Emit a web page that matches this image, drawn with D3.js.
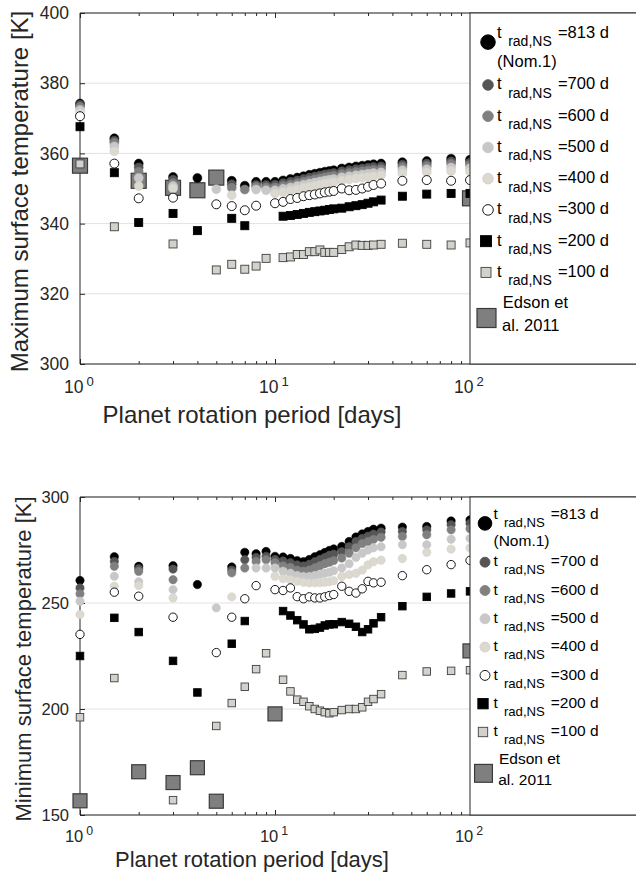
<!DOCTYPE html>
<html>
<head>
<meta charset="utf-8">
<script src="https://cdn.jsdelivr.net/npm/d3@7"></script>
<style>
    body { margin: 0; background: #ffffff; }
    svg { display: block; font-family: 'Liberation Sans', Arial, Helvetica, sans-serif; }
</style>
</head>
<body>
<svg id="svgTemps" width="636" height="876"></svg>
<script>
// rotation periods (days) shared by all t_rad,NS runs
const periods = [1, 1.5, 2, 3, 4, 5, 6, 7, 8, 9,
    10, 11, 12, 13, 14, 15, 16, 17, 18, 19, 20,
    22, 24, 26, 28, 30, 32, 35, 45, 60, 80, 100];

const radTimes = ['813', '700', '600', '500', '400', '300', '200', '100'];

// maximum surface temperature [K]
const maxT813 = [374.2, 364.3, 357.1, 353.3, 353.0, null, 352.2, 350.8, 351.9, 351.9,
    351.9, 352.3, 352.7, 353.1, 353.5, 353.9, 354.2, 354.5, 354.8, 355.0, 355.2,
    355.7, 356.0, 356.3, 356.5, 356.7, 356.9, 357.1, 357.5, 357.8, 358.5, 358.2];
const maxT700 = [373.8, 363.6, 356.0, 352.5, null, null, 351.2, null, 351.0, 351.0,
    351.1, 351.5, 351.9, 352.3, 352.7, 353.1, 353.4, 353.7, 354.0, 354.2, 354.4,
    354.9, 355.2, 355.5, 355.7, 355.9, 356.1, 356.3, 356.8, 357.1, 357.7, 357.4];
const maxT600 = [373.2, 363.0, 354.8, 351.5, null, null, 350.2, 349.7, 350.5, 350.3,
    350.3, 350.7, 351.1, 351.5, 351.9, 352.3, 352.6, 352.9, 353.2, 353.4, 353.6,
    354.1, 354.4, 354.7, 354.9, 355.1, 355.3, 355.5, 356.1, 356.4, 357.0, 356.7];
const maxT500 = [372.4, 362.0, 353.0, 350.7, null, 349.8, null, null, 349.7, 349.5,
    349.5, 349.9, 350.3, 350.7, 351.1, 351.4, 351.7, 352.0, 352.3, 352.5, 352.7,
    353.2, 353.5, 353.8, 354.0, 354.2, 354.4, 354.6, 355.2, 355.5, 356.0, 355.8];
const maxT400 = [371.6, 360.6, 350.7, 350.0, null, null, 348.1, null, null, null,
    348.6, 349.0, 349.4, 349.8, 350.2, 350.5, 350.8, 351.1, 351.4, 351.6, 351.8,
    352.3, 352.6, 352.9, 353.1, 353.3, 353.5, 353.8, 354.3, 354.6, 355.0, 354.8];
const maxT300 = [370.6, 357.1, 347.2, 347.4, null, 345.5, 345.0, 343.8, 345.1, null,
    345.8, 346.2, 347.0, 347.3, 347.8, 348.1, 348.3, 348.6, 348.9, 349.1, 349.3,
    350.0, 349.5, 349.6, 350.0, 350.5, 351.0, 351.4, 352.2, 352.4, 352.2, 352.4];
const maxT200 = [367.6, 354.5, 340.3, 342.9, 338.0, null, 341.5, 339.4, null, null,
    null, 342.1, 342.3, 342.6, 342.9, 343.2, 343.4, 343.6, 343.8, 344.0, 344.2,
    344.4, 344.8, 345.1, 345.4, 345.8, 346.2, 346.7, 347.8, 348.4, 348.6, 348.6];
const maxT100 = [357.0, 339.1, null, 334.2, null, 326.8, 328.4, 327.0, 327.9, 330.1,
    null, 330.3, 330.5, 331.2, 331.2, 332.0, 332.0, 332.5, 331.8, 331.8, 331.8,
    332.6, 333.4, 333.9, 333.8, 333.8, 333.9, 334.1, 334.4, 334.1, 333.9, 334.5];

// minimum surface temperature [K]
const minT813 = [260.6, 271.8, 267.3, 267.6, 258.7, null, 267.0, 273.9, 273.2, 274.3,
    272.0, 271.7, 271.0, 270.0, 269.5, 270.5, 271.8, 272.8, 273.8, 274.8, 275.5,
    276.7, 279.0, 281.1, 282.6, 283.7, 284.8, 285.3, 285.8, 286.1, 288.7, 289.2];
const minT700 = [257.1, 269.6, 266.2, 266.0, null, null, 265.5, 270.4, 271.5, 272.0,
    270.5, 269.8, 269.0, 268.0, 267.5, 268.3, 269.5, 270.5, 271.5, 272.5, 273.0,
    274.2, 276.5, 279.0, 280.5, 281.5, 282.5, 283.5, 283.7, 284.5, 286.9, 287.5];
const minT600 = [254.3, 267.3, 264.9, 261.0, null, null, 264.2, 266.5, 269.6, 270.4,
    269.0, 267.5, 266.8, 265.5, 265.0, 265.6, 266.6, 267.6, 268.5, 269.2, 270.0,
    271.2, 273.5, 276.0, 278.0, 279.0, 280.0, 281.0, 281.4, 282.2, 284.5, 285.0];
const minT500 = [250.8, 262.6, 260.0, 256.3, null, 247.7, null, null, 266.5, 266.5,
    266.5, 265.0, 264.0, 263.0, 262.5, 262.5, 263.0, 263.5, 264.0, 264.5, 265.2,
    266.5, 268.5, 271.5, 273.5, 275.0, 276.0, 276.5, 277.5, 277.5, 280.1, 280.5];
const minT400 = [244.6, 257.9, 258.2, 252.4, null, null, 252.9, null, null, null,
    262.6, 261.5, 261.0, 260.3, 259.8, 259.5, 259.5, 259.6, 259.8, 260.0, 260.5,
    262.5, 263.4, 264.0, 265.5, 268.0, 269.5, 270.2, 271.0, 273.9, 275.4, 276.0];
const minT300 = [235.2, 255.1, 253.2, 243.3, null, 226.6, 243.3, 252.0, 258.2, null,
    256.3, 255.9, 257.1, 253.0, 252.0, 252.9, 252.4, 252.4, 252.9, 253.5, 254.0,
    257.9, 255.5, 254.7, 256.7, 260.2, 259.5, 259.8, 262.9, 265.7, 268.1, 270.1];
const minT200 = [225.0, 243.0, 236.3, 222.7, 207.8, null, 230.8, 241.5, null, null,
    null, 246.2, 244.1, 241.9, 239.9, 237.6, 237.8, 238.4, 239.4, 239.9, 240.0,
    241.0, 240.2, 238.8, 236.3, 237.6, 240.4, 243.3, 248.5, 252.9, 254.5, 255.5];
const minT100 = [196.1, 214.6, null, 157.0, null, 192.0, 202.8, 210.5, 218.8, 226.3,
    null, 213.8, 208.3, 204.4, 203.4, 201.3, 200.0, 199.2, 198.5, 198.0, 198.5,
    199.5, 200.0, 200.0, 200.8, 203.4, 204.7, 207.0, 216.0, 217.7, 218.0, 218.3];

// Edson et al. 2011
const edsonPeriods = [1, 2, 3, 4, 5, 10, 100];
const edsonMax = [356.5, 352.2, 350.2, 349.5, 353.1, null, 347.2];
const edsonMin = [156.7, 170.4, 165.3, 172.3, 156.5, 197.7, 227.4];

const maxTicks = [300, 320, 340, 360, 380, 400];
const minTicks = [150, 200, 250, 300];
const xMajorTicks = [1, 10, 100];
const xMinorTicks = [2, 3, 4, 5, 6, 7, 8, 9, 20, 30, 40, 50, 60, 70, 80, 90];

const markerStyles = [
    {shape: 'circle', fill: '#000000', stroke: '#000000'},
    {shape: 'circle', fill: '#555555', stroke: '#555555'},
    {shape: 'circle', fill: '#808080', stroke: '#808080'},
    {shape: 'circle', fill: '#c8c8c8', stroke: '#c8c8c8'},
    {shape: 'circle', fill: '#dcd9d0', stroke: '#d2cfc6'},
    {shape: 'circle', fill: '#ffffff', stroke: '#000000'},
    {shape: 'square', fill: '#000000', stroke: '#000000'},
    {shape: 'square', fill: '#d2d1cc', stroke: '#404040'}
];
const edsonStyle = {fill: '#7f7f7f', stroke: '#3a3a3a'};

const axisColor = '#262626';
const plotLeft = 80, plotRight = 470, svgWidth = 636;
const legendRows = [0.083, 0.205, 0.294, 0.383, 0.472, 0.561, 0.650, 0.739, 0.869];

const panels = [
    {
        top: 13, bottom: 364, domain: [300, 400], ticks: maxTicks,
        series: [maxT813, maxT700, maxT600, maxT500, maxT400, maxT300, maxT200, maxT100],
        edson: edsonMax,
        yLabel: 'Maximum surface temperature [K]',
        tickFont: 17.5, labelFont: 24, xTickBase: 393, xLabelBase: 423, yLabelX: 28,
        r: 4.5, sq: 8, edsonSize: 15,
        legendX: 488, legendFont: 16.5
    },
    {
        top: 497, bottom: 815, domain: [150, 300], ticks: minTicks,
        series: [minT813, minT700, minT600, minT500, minT400, minT300, minT200, minT100],
        edson: edsonMin,
        yLabel: 'Minimum surface temperature [K]',
        tickFont: 16.5, labelFont: 22, xTickBase: 842, xLabelBase: 867, yLabelX: 31,
        r: 4.2, sq: 7.5, edsonSize: 14,
        legendX: 485, legendFont: 15.5
    }
];

const svg = d3.select('#svgTemps');

const xScale = d3.scaleLog()
    .domain([1, 100])
    .range([plotLeft, plotRight]);

function toPoints(xs, values) {
    return xs.map((p, i) => ({period: p, value: values[i]}))
        .filter(d => d.value !== null);
}

function drawMarkers(g, points, style, y, p) {
    if (style.shape === 'circle') {
        g.selectAll(null)
            .data(points)
            .join('circle')
            .attr('cx', d => xScale(d.period))
            .attr('cy', d => y(d.value))
            .attr('r', p.r)
            .style('fill', style.fill)
            .style('stroke', style.stroke)
            .style('stroke-width', style.fill === '#ffffff' ? 0.9 : 0.5);
    } else {
        g.selectAll(null)
            .data(points)
            .join('rect')
            .attr('x', d => xScale(d.period) - p.sq / 2)
            .attr('y', d => y(d.value) - p.sq / 2)
            .attr('width', p.sq)
            .attr('height', p.sq)
            .style('fill', style.fill)
            .style('stroke', style.stroke)
            .style('stroke-width', 0.9);
    }
}

function drawPanel(p) {
    const g = svg.append('g');

    const yScale = d3.scaleLinear()
        .domain(p.domain)
        .range([p.bottom, p.top]);

    // grid
    g.selectAll('.grid')
        .data(p.ticks)
        .join('line')
        .classed('grid', true)
        .attr('x1', plotLeft)
        .attr('x2', plotRight)
        .attr('y1', d => yScale(d))
        .attr('y2', d => yScale(d))
        .style('stroke', '#e2e2e2')
        .style('stroke-width', 1);

    // y axis (ticks point inward)
    const yAxis = g.append('g')
        .attr('transform', `translate(${plotLeft}, 0)`)
        .call(d3.axisLeft(yScale)
            .tickValues(p.ticks)
            .tickSize(-5)
            .tickPadding(11)
            .tickFormat(d3.format('d')));
    yAxis.select('.domain').remove();
    yAxis.selectAll('line').style('stroke', axisColor);
    yAxis.selectAll('text')
        .style('font-size', `${p.tickFont}px`)
        .style('font-family', "'Liberation Sans', Arial, sans-serif")
        .style('fill', axisColor);

    // x ticks on bottom and top
    [[d3.axisBottom, p.bottom], [d3.axisTop, p.top]].forEach(([axisFn, pos]) => {
        const major = g.append('g')
            .attr('transform', `translate(0, ${pos})`)
            .call(axisFn(xScale).tickValues(xMajorTicks).tickSize(-5).tickFormat(''));
        const minor = g.append('g')
            .attr('transform', `translate(0, ${pos})`)
            .call(axisFn(xScale).tickValues(xMinorTicks).tickSize(-3).tickFormat(''));
        [major, minor].forEach(a => {
            a.select('.domain').remove();
            a.selectAll('line').style('stroke', axisColor);
        });
    });

    // box lines
    g.append('line')
        .attr('x1', plotLeft).attr('x2', plotLeft)
        .attr('y1', p.top).attr('y2', p.bottom)
        .style('stroke', axisColor);
    [p.top, p.bottom].forEach(yy => {
        g.append('line')
            .attr('x1', plotLeft).attr('x2', svgWidth + 5)
            .attr('y1', yy).attr('y2', yy)
            .style('stroke', axisColor);
    });

    // x tick labels 10^n
    g.selectAll('.xTickLabel')
        .data(xMajorTicks)
        .join('text')
        .classed('xTickLabel', true)
        .attr('x', d => xScale(d) - 1)
        .attr('y', p.xTickBase)
        .style('text-anchor', 'middle')
        .style('font-size', `${p.tickFont}px`)
        .style('fill', axisColor)
        .each(function (d) {
            const t = d3.select(this);
            t.append('tspan').text('10');
            t.append('tspan')
                .attr('dx', 3)
                .attr('dy', -7)
                .style('font-size', `${p.tickFont * 0.75}px`)
                .text(String(Math.round(Math.log10(d))));
        });

    g.append('text')
        .attr('x', 252)
        .attr('y', p.xLabelBase)
        .style('text-anchor', 'middle')
        .style('font-size', `${p.labelFont}px`)
        .style('fill', axisColor)
        .text('Planet rotation period [days]');

    g.append('text')
        .attr('transform', `translate(${p.yLabelX}, ${(p.top + p.bottom) / 2 + 3}) rotate(-90)`)
        .style('text-anchor', 'middle')
        .style('font-size', `${p.labelFont}px`)
        .style('fill', axisColor)
        .text(p.yLabel);

    // data
    const marks = g.append('g');
    marks.selectAll('.edson')
        .data(toPoints(edsonPeriods, p.edson))
        .join('rect')
        .classed('edson', true)
        .attr('x', d => xScale(d.period) - p.edsonSize / 2)
        .attr('y', d => yScale(d.value) - p.edsonSize / 2)
        .attr('width', p.edsonSize)
        .attr('height', p.edsonSize)
        .style('fill', edsonStyle.fill)
        .style('stroke', edsonStyle.stroke)
        .style('stroke-width', 1.2);

    p.series.forEach((values, i) => {
        drawMarkers(marks.append('g'), toPoints(periods, values), markerStyles[i], yScale, p);
    });

    drawLegend(p);
}

function drawLegend(p) {
    const g = svg.append('g');
    const h = p.bottom - p.top;
    const fs = p.legendFont;
    const s = fs / 16.5;
    const lx = p.legendX;

    g.append('rect')
        .attr('x', plotRight)
        .attr('y', p.top)
        .attr('width', svgWidth - plotRight + 10)
        .attr('height', h)
        .style('fill', '#ffffff')
        .style('stroke', axisColor)
        .style('stroke-width', 1);

    radTimes.forEach((t, i) => {
        const ry = p.top + legendRows[i] * h;
        const style = markerStyles[i];
        if (style.shape === 'circle') {
            g.append('circle')
                .attr('cx', lx)
                .attr('cy', ry)
                .attr('r', i === 0 ? 7.3 * s : 5.3 * s)
                .style('fill', style.fill)
                .style('stroke', style.fill === '#ffffff' ? '#000000' : style.stroke)
                .style('stroke-width', 0.9);
        } else {
            const size = (i === 6 ? 11 : 10) * s;
            g.append('rect')
                .attr('x', lx - 2 - size / 2)
                .attr('y', ry - size / 2)
                .attr('width', size)
                .attr('height', size)
                .style('fill', style.fill)
                .style('stroke', style.stroke)
                .style('stroke-width', 0.9);
        }

        const base = ry + (i === 0 ? -4.5 : 4.5) * s;
        const txt = g.append('text')
            .attr('y', base)
            .style('font-size', `${fs}px`)
            .style('fill', '#000000');
        txt.append('tspan')
            .attr('x', lx + 0.55 * fs)
            .text('t');
        txt.append('tspan')
            .attr('x', lx + 1.22 * fs)
            .attr('dy', 8.5 * s)
            .style('font-size', `${fs * 0.85}px`)
            .text('rad,NS');
        txt.append('tspan')
            .attr('x', lx + 4.24 * fs)
            .attr('dy', -8.5 * s)
            .text(`=${t} d`);

        if (i === 0) {
            g.append('text')
                .attr('x', lx + 0.55 * fs)
                .attr('y', ry + 24.5 * s)
                .style('font-size', `${fs}px`)
                .style('fill', '#000000')
                .text('(Nom.1)');
        }
    });

    const ey = p.top + legendRows[8] * h;
    const es = 19 * s;
    g.append('rect')
        .attr('x', lx - 1.5 - es / 2)
        .attr('y', ey - es / 2)
        .attr('width', es)
        .attr('height', es)
        .style('fill', edsonStyle.fill)
        .style('stroke', edsonStyle.stroke)
        .style('stroke-width', 1.2);
    g.append('text')
        .attr('x', lx + 0.9 * fs)
        .attr('y', ey - 10 * s)
        .style('font-size', `${fs}px`)
        .style('fill', '#000000')
        .text('Edson et');
    g.append('text')
        .attr('x', lx + 0.85 * fs)
        .attr('y', ey + 12.7 * s)
        .style('font-size', `${fs}px`)
        .style('fill', '#000000')
        .text('al. 2011');
}

panels.forEach(drawPanel);
</script>
</body>
</html>
